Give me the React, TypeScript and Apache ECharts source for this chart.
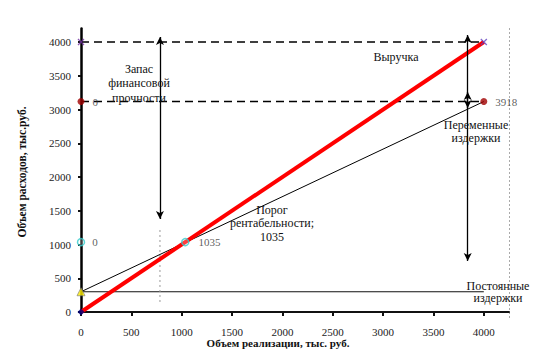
import React, { useEffect, useRef } from "react";
import * as echarts from "echarts";

// ---- data ----
const xTicks = [0, 500, 1000, 1500, 2000, 2500, 3000, 3500, 4000];
const yTicks = [0, 500, 1000, 1500, 2000, 2500, 3000, 3500, 4000];
const revenueX = [0, 4000];
const revenueY = [0, 4000];
const totalCostX = [0, 4000];
const totalCostY = [300, 3118];
const fixedCostX = [0, 4000];
const fixedCostY = [300, 300];
const revenueLevelX = [0, 4000];
const revenueLevelY = [4000, 4000];
const costLevelX = [0, 4000];
const costLevelY = [3118, 3118];
const breakEven = [1035, 1035];
const safetyX = 784;
const safetyArrowY = [4074, 1378];
const safetyDottedY = [1215, 133];
const rightArrowX = 3840;
const revenueArrowY = [4104, 3022];
const variableArrowY = [3259, 756];
const endLabel = "3918";

const zip = (xs: number[], ys: number[]) => xs.map((x, i) => [x, ys[i]]);
const F = "'Liberation Serif', 'Times New Roman', serif";

export default function App() {
  const ref = useRef<HTMLDivElement>(null);
  useEffect(() => {
    if (!ref.current) return;
    const chart = echarts.init(ref.current, undefined, { renderer: "svg" });
    const txt = (text: string, x: number, y: number, opts: any = {}) => ({
      type: "text",
      x,
      y,
      z: 100,
      rotation: opts.rotation || 0,
      style: {
        text,
        fill: opts.fill || "#111",
        fontSize: opts.fontSize || 12,
        fontFamily: F,
        fontWeight: opts.bold ? "bold" : "normal",
        align: "center",
        verticalAlign: "middle",
        lineHeight: opts.lineHeight || 14,
      },
    });
    const ptLabel = (text: string, dist: number) => ({
      show: true,
      position: "right",
      distance: dist,
      formatter: text,
      color: "#333",
      fontSize: 11,
      fontFamily: F,
    });
    chart.setOption({
      animation: false,
      grid: { left: 81, right: 24, top: 28.5, bottom: 44, containLabel: false },
      xAxis: {
        type: "value",
        min: 0,
        max: 4250,
        interval: 250,
        splitLine: { show: false },
        axisLine: { show: true, lineStyle: { color: "#111", width: 2 } },
        axisTick: { show: true, customValues: xTicks, length: 4, lineStyle: { color: "#111", width: 2 } },
        axisLabel: {
          customValues: xTicks,
          formatter: (v: number) => String(v),
          margin: 14,
          color: "#222",
          fontSize: 11,
          fontFamily: F,
        },
      },
      yAxis: {
        type: "value",
        min: 0,
        max: 4200,
        interval: 100,
        splitLine: { show: false },
        axisLine: { show: true, lineStyle: { color: "#000", width: 2.5 } },
        axisTick: { show: true, customValues: yTicks, length: 3, lineStyle: { color: "#111", width: 2 } },
        axisLabel: {
          customValues: yTicks,
          formatter: (v: number) => String(v),
          margin: 10,
          color: "#222",
          fontSize: 11,
          fontFamily: F,
        },
      },
      series: [
        {
          type: "line",
          data: zip(fixedCostX, fixedCostY),
          symbol: "none",
          clip: false,
          lineStyle: { color: "#111", width: 1 },
          markLine: {
            silent: true,
            symbol: ["arrow", "arrow"],
            symbolSize: [6, 8],
            label: { show: false },
            lineStyle: { color: "#000", width: 1.3, type: "solid" },
            data: [
              [{ coord: [safetyX, safetyArrowY[0]] }, { coord: [safetyX, safetyArrowY[1]] }],
              [{ coord: [rightArrowX, revenueArrowY[0]] }, { coord: [rightArrowX, revenueArrowY[1]] }],
              [{ coord: [rightArrowX, variableArrowY[0]] }, { coord: [rightArrowX, variableArrowY[1]] }],
            ],
          },
        },
        {
          type: "line",
          data: zip([safetyX, safetyX], safetyDottedY),
          symbol: "none",
          lineStyle: { color: "#999", width: 1, type: [2, 3] },
        },
        {
          type: "line",
          data: zip(revenueLevelX, revenueLevelY),
          symbol: "none",
          clip: false,
          lineStyle: { color: "#000", width: 1.5, type: [8, 5] },
        },
        {
          type: "line",
          data: zip(costLevelX, costLevelY),
          symbol: "none",
          lineStyle: { color: "#000", width: 1.5, type: [8, 5] },
        },
        {
          type: "line",
          data: zip(totalCostX, totalCostY),
          symbol: "none",
          lineStyle: { color: "#000", width: 1 },
        },
        {
          type: "line",
          data: zip(revenueX, revenueY),
          symbol: "none",
          clip: false,
          lineStyle: { color: "#ff0000", width: 4 },
          z: 3,
        },
        {
          type: "scatter",
          z: 5,
          clip: false,
          data: [
            { value: [0, 0], symbol: "diamond", symbolSize: 7, itemStyle: { color: "#000080" } },
            {
              value: [0, fixedCostY[0]],
              symbol: "triangle",
              symbolSize: 8,
              itemStyle: { color: "#ffee00", borderColor: "#777", borderWidth: 0.8 },
            },
            {
              value: [0, breakEven[1]],
              symbol: "circle",
              symbolSize: 7,
              itemStyle: { color: "rgba(255,255,255,0.3)", borderColor: "#33cccc", borderWidth: 1.5 },
              label: ptLabel("0", 7),
            },
            {
              value: breakEven,
              symbol: "circle",
              symbolSize: 7,
              itemStyle: { color: "rgba(255,255,255,0.3)", borderColor: "#33cccc", borderWidth: 1.5 },
              label: ptLabel(String(breakEven[0]), 9),
            },
            {
              value: [0, costLevelY[0]],
              symbol: "circle",
              symbolSize: 7,
              itemStyle: { color: "#a00000" },
              label: ptLabel("0", 8),
            },
            {
              value: [totalCostX[1], totalCostY[1]],
              symbol: "circle",
              symbolSize: 7,
              itemStyle: { color: "#a00000" },
              label: ptLabel(endLabel, 8),
            },
            {
              value: [0, revenueLevelY[0]],
              symbol: "path://M0,0L10,10M10,0L0,10",
              symbolSize: 6,
              itemStyle: { color: "#7030a0", borderColor: "#7030a0", borderWidth: 1.3 },
            },
            {
              value: [revenueX[1], revenueY[1]],
              symbol: "path://M0,0L10,10M10,0L0,10",
              symbolSize: 6,
              itemStyle: { color: "#6040c0", borderColor: "#6040c0", borderWidth: 1.3 },
            },
          ],
        },
      ],
      graphic: [
        {
          type: "line",
          shape: { x1: 509.5, y1: 28, x2: 509.5, y2: 318 },
          style: { stroke: "#aaa", lineWidth: 1, lineDash: [2, 2] },
        },
        txt("Запас\nфинансовой\nпрочности", 139, 83, { lineHeight: 14.5 }),
        txt("Выручка", 396, 57),
        txt("Переменные\nиздержки", 476, 131.5, { lineHeight: 13 }),
        txt("Порог\nрентабельности;\n1035", 272, 223, { lineHeight: 13.5 }),
        txt("Постоянные\nиздержки", 498, 292, { lineHeight: 12.5 }),
        txt("Объем реализации, тыс. руб.", 278, 343, { bold: true, fontSize: 11 }),
        txt("Объем расходов, тыс.руб.", 22, 172, { bold: true, fontSize: 11.5, rotation: Math.PI / 2 }),
      ],
    });
    return () => chart.dispose();
  }, []);
  return (
    <div
      ref={ref}
      style={{ position: "fixed", left: 0, top: 0, width: 533, height: 356, background: "#fff" }}
    />
  );
}
